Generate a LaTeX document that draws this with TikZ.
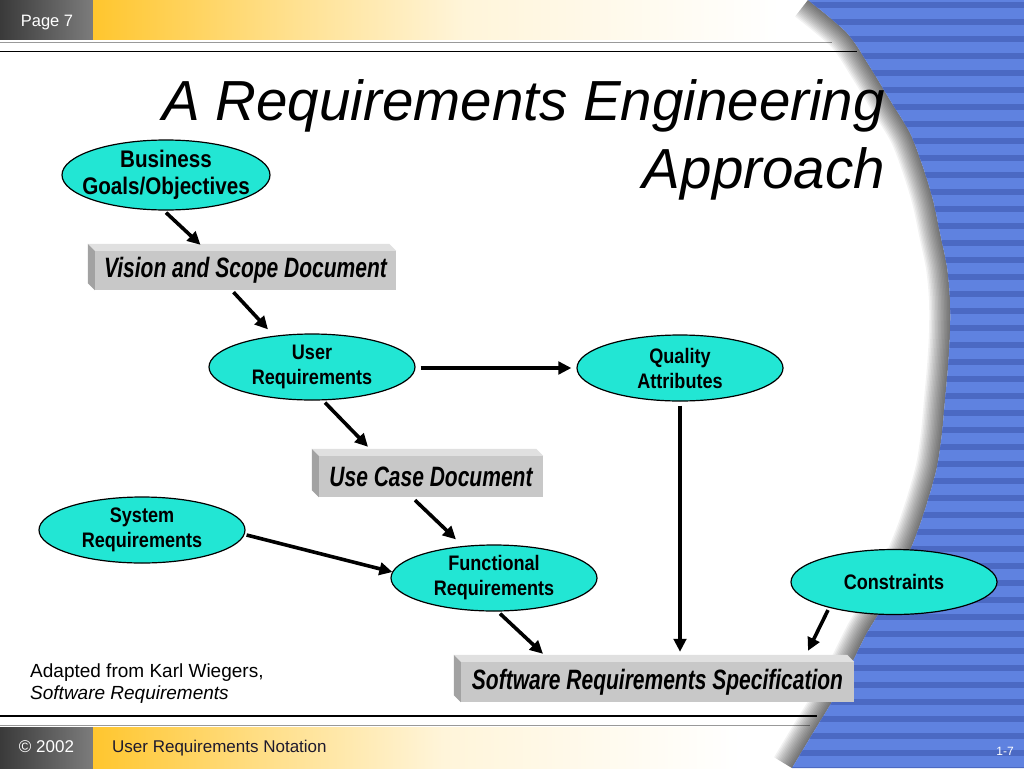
\documentclass[tikz,border=0pt]{standalone}
\usepackage{fontspec}
\setmainfont{Liberation Sans}
\newfontfamily\boxfont[FakeStretch=0.75]{Liberation Sans}
\newfontfamily\bubfont[FakeStretch=0.86]{Liberation Sans}
\usetikzlibrary{arrows.meta,calc,shapes.geometric}
\definecolor{turq}{HTML}{22E6D4}
\definecolor{boxfront}{HTML}{C8C8C8}
\definecolor{boxtop}{HTML}{E0E0E0}
\definecolor{boxside}{HTML}{A2A2A2}
\definecolor{bluelight}{HTML}{5F82E0}
\definecolor{bluedark}{HTML}{4B69C3}
\definecolor{gold}{HTML}{FFC62E}
\definecolor{hdrdark}{HTML}{3A3A3A}
\definecolor{hdrlight}{HTML}{7C7C7C}
\definecolor{navytext}{HTML}{1E1A2E}
\pgfdeclarehorizontalshading{goldfade}{100bp}{color(0bp)=(gold); color(25bp)=(gold); color(39bp)=(gold!55!white); color(52bp)=(gold!18!white); color(75bp)=(white); color(100bp)=(white)}
\tikzset{
  bub/.style={ellipse, draw=black, line width=1.2pt, fill=turq, inner sep=-40pt,
    minimum width=206pt, minimum height=66pt, align=center,
    font=\bubfont\bfseries\fontsize{21}{25}\selectfont},
  doc/.style={rectangle, fill=boxfront, draw=none, inner sep=0pt,
    font=\boxfont\bfseries\itshape\fontsize{28}{32}\selectfont},
  arr/.style={line width=3.6pt, -{Triangle[length=13pt,width=12.5pt]}},
  hline/.style={line width=1.4pt, black},
  gline/.style={line width=0.8pt, black!40},
}
\newcommand\bevel[1]{%
  \fill[boxtop] ($(#1.north west)+(-7,-7)$) -- ($(#1.north east)+(-7,-7)$) -- (#1.north east) -- (#1.north west) -- cycle;
  \fill[boxside] ($(#1.north west)+(-7,-7)$) -- (#1.north west) -- (#1.south west) -- ($(#1.south west)+(-7,-7)$) -- cycle;}
\begin{document}
\begin{tikzpicture}[x=1pt,y=-1pt]
\useasboundingbox (0,0) rectangle (1024,768);
\fill[white] (0,0) rectangle (1024,768);
% header
\shade[left color=hdrdark, right color=hdrlight] (0,0) rectangle (93,40);
\shade[shading=goldfade] (93,0) rectangle (780,40);
\draw[gline] (0,42) -- (832,42);
\draw[hline] (0,51.5) -- (857,51.5);
% footer
\draw[hline] (0,716) -- (817,716);
\draw[gline] (0,725) -- (810,725);
\shade[left color=hdrdark, right color=hdrlight] (0,727) rectangle (93,768);
\shade[shading=goldfade] (93,727) rectangle (740,768);
% shadow of the blue area
\begin{scope}
\clip (600,0) -- plot[smooth] coordinates {(808,0) (847,33) (870,67) (890,100) (910,133) (923,167) (933,200) (940,233) (947,267) (950,300) (950,333) (948,367) (945,400) (942,433) (937,467) (928,500) (917,533) (903,567) (887,600) (867,633) (850,667) (833,700) (813,733) (792,768)} -- (600,768) -- cycle;
\foreach \w in {3,6,...,42} {
  \draw[line width=\w pt, black, opacity=0.05] plot[smooth] coordinates {(808,0) (847,33) (870,67) (890,100) (910,133) (923,167) (933,200) (940,233) (947,267) (950,300) (950,333) (948,367) (945,400) (942,433) (937,467) (928,500) (917,533) (903,567) (887,600) (867,633) (850,667) (833,700) (813,733) (792,768)};
}
\end{scope}
% blue striped area
\begin{scope}
\clip plot[smooth] coordinates {(808,0) (847,33) (870,67) (890,100) (910,133) (923,167) (933,200) (940,233) (947,267) (950,300) (950,333) (948,367) (945,400) (942,433) (937,467) (928,500) (917,533) (903,567) (887,600) (867,633) (850,667) (833,700) (813,733) (792,768)} -- (1024,768) -- (1024,0) -- cycle;
\fill[bluelight] (760,0) rectangle (1024,768);
\foreach \k in {0,...,45} {\fill[bluedark] (760,{2+17*\k}) rectangle (1024,{8+17*\k});}
\end{scope}
% header / footer texts
\node[anchor=base, white, font=\fontsize{16.5}{20}\selectfont, inner sep=0pt] (hdr) at (47,27) {Page 7};
\node[anchor=base, white, font=\fontsize{17}{20}\selectfont, inner sep=0pt] (cpy) at (46.5,752) {© 2002};
\node[anchor=base west, text=navytext, font=\fontsize{17}{20}\selectfont, inner sep=0pt] (urn) at (112,752) {User Requirements Notation};
\node[anchor=base east, white, font=\fontsize{12}{14}\selectfont, inner sep=0pt] (pgn) at (1014,755) {1-7};
% title
\node[anchor=base east, font=\fontsize{56.5}{68}\selectfont\itshape, inner sep=0pt] (t1) at (885,120) {A Requirements Engineering};
\node[anchor=base east, font=\fontsize{56.5}{68}\selectfont\itshape, inner sep=0pt] (t2) at (885,188) {Approach};
% source
\node[anchor=base west, font=\fontsize{19}{23}\selectfont, inner sep=0pt] (src1) at (30,677) {Adapted from Karl Wiegers,};
\node[anchor=base west, font=\fontsize{19}{23}\selectfont\itshape, inner sep=0pt] (src2) at (30,699) {Software Requirements};
% ellipses
\node[bub, font=\bubfont\bfseries\fontsize{24}{27}\selectfont, minimum width=208pt, minimum height=70pt] (bg) at (166,175) {Business\\Goals/Objectives};
\node[bub] (ur) at (312,367) {User\\Requirements};
\node[bub] (qa) at (680,368) {Quality\\Attributes};
\node[bub] (sr) at (142,530) {System\\Requirements};
\node[bub] (fr) at (494,578) {Functional\\Requirements};
\node[bub, minimum height=65pt] (cs) at (894,582) {Constraints};
% document boxes
\node[doc, minimum width=301pt, minimum height=39pt] (vis) at (245.5,270.5) {Vision and Scope Document};
\bevel{vis}
\node[doc, minimum width=224pt, minimum height=41pt] (uc) at (431,476.5) {Use Case Document};
\bevel{uc}
\node[doc, minimum width=393pt, minimum height=40pt] (srs) at (657.5,682) {Software Requirements Specification};
\bevel{srs}
% connectors
\draw[arr] ($(bg.south)+(0,2)$) -- ($(vis.north)+(-45,-6)$);
\draw[arr] ($(vis.south)+(-12,2)$) -- ($(ur.north)+(-44,-4)$);
\draw[arr] ($(ur.east)+(5,1)$) -- ($(qa.west)+(-5,0)$);
\draw[arr] ($(ur.south)+(13,2)$) -- ($(uc.north)+(-63,-9)$);
\draw[arr] ($(uc.south)+(-16,3)$) -- ($(fr.north)+(-38,-5)$);
\draw[arr] ($(sr.east)+(1,5)$) -- ($(fr.west)+(2,-6)$);
\draw[arr] ($(qa.south)+(0,4)$) -- ($(srs.north)+(22.5,-10)$);
\draw[arr] ($(fr.south)+(6,2)$) -- ($(srs.north)+(-114.5,-8)$);
\draw[arr] ($(cs.south)+(-66,-5)$) -- ($(srs.north)+(150.5,-11)$);
\end{tikzpicture}
\end{document}
